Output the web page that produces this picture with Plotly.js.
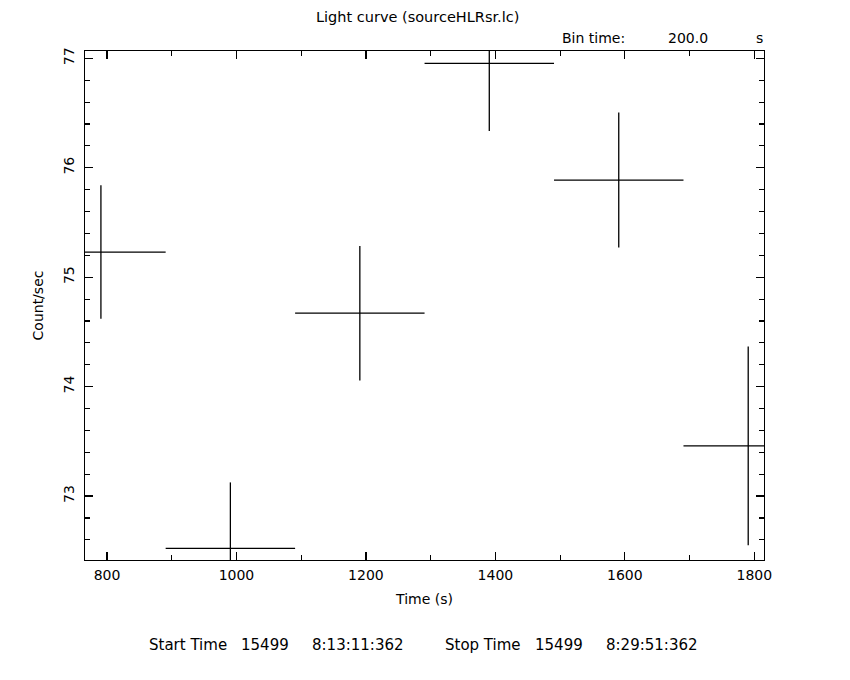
<!DOCTYPE html>
<html>
<head>
<meta charset="utf-8">
<script src="https://cdn.plot.ly/plotly-3.0.1.min.js"></script>
<style>
  html, body { margin: 0; padding: 0; background: #fff; }
  #chart { width: 850px; height: 680px; }
</style>
</head>
<body>
<div id="chart"></div>
<script>
// Bin centres (s), count rates and 1-sigma errors
const timeCenters = [790.6, 990.6, 1190.6, 1390.6, 1590.6, 1790.6];
const binHalfWidth = [100, 100, 100, 100, 100, 100];
const countRate = [75.23, 72.522, 74.671, 76.954, 75.888, 73.458];
const rateError = [0.61, 0.603, 0.615, 0.618, 0.617, 0.908];

const titleText = 'Light curve (sourceHLRsr.lc)';
const binTimeLabel = 'Bin time:';
const binTimeValue = '200.0';
const binTimeUnit = 's';
const xTitle = 'Time (s)';
const yTitle = 'Count/sec';
const footerPieces = ['Start Time', '15499', '8:13:11:362', 'Stop Time', '15499', '8:29:51:362'];

const FONT = 'DejaVu Sans, Verdana, sans-serif';
const FS = 14;
const black = '#000000';

const trace = {
  type: 'scatter',
  mode: 'markers',
  x: timeCenters,
  y: countRate,
  marker: { size: 1, color: black, opacity: 0 },
  error_x: { type: 'data', array: binHalfWidth, visible: true, width: 0, thickness: 1.3, color: black },
  error_y: { type: 'data', array: rateError, visible: true, width: 0, thickness: 1.3, color: black },
  hoverinfo: 'x+y',
  showlegend: false
};

const axisCommon = {
  showgrid: false,
  zeroline: false,
  showline: true,
  linecolor: black,
  linewidth: 1.3,
  mirror: 'allticks',
  ticks: 'inside',
  ticklen: 8,
  tickwidth: 1.2,
  tickcolor: black,
  tickfont: { family: FONT, size: FS, color: black }
};

const PL = 85, PW = 679;
function px(xPix) { return (xPix - PL) / PW; }
function ann(text, xPix, anchor, yshift, size) {
  return { text: text, xref: 'paper', yref: 'paper', x: px(xPix), y: yshift > 0 ? 1 : 0, yshift: yshift,
           xanchor: anchor, yanchor: 'middle', showarrow: false, font: { family: FONT, size: size || FS, color: black } };
}

const footerLeft = [147, 239, 310, 443, 533, 604];
const footerAnns = footerPieces.map((t, i) => ann(t, footerLeft[i], 'left', -85, 15));

const layout = {
  width: 850,
  height: 680,
  paper_bgcolor: '#ffffff',
  plot_bgcolor: '#ffffff',
  margin: { l: 85, r: 86, t: 51, b: 120, pad: 0 },
  showlegend: false,
  xaxis: Object.assign({}, axisCommon, {
    range: [766, 1815],
    tickmode: 'linear',
    tick0: 800,
    dtick: 200,
    ticklabelstandoff: 2,
    minor: { dtick: 100, ticks: 'inside', ticklen: 5, tickwidth: 1.2, tickcolor: black, showgrid: false },
    title: { text: xTitle, font: { family: FONT, size: FS, color: black }, standoff: 12 }
  }),
  yaxis: Object.assign({}, axisCommon, {
    range: [72.416, 77.067],
    tickmode: 'linear',
    tick0: 73,
    dtick: 1,
    tickangle: -90,
    ticklabelstandoff: 4,
    minor: { dtick: 0.2, ticks: 'inside', ticklen: 5, tickwidth: 1.2, tickcolor: black, showgrid: false },
    title: { text: yTitle, font: { family: FONT, size: FS, color: black }, standoff: 14 }
  }),
  annotations: [
    ann(titleText, 417, 'center', 34, 14.5),
    ann(binTimeLabel, 560, 'left', 13),
    ann(binTimeValue, 666, 'left', 13),
    ann(binTimeUnit, 754, 'left', 13)
  ].concat(footerAnns)
};

Plotly.newPlot('chart', [trace], layout, { displayModeBar: false, staticPlot: true });
</script>
</body>
</html>
